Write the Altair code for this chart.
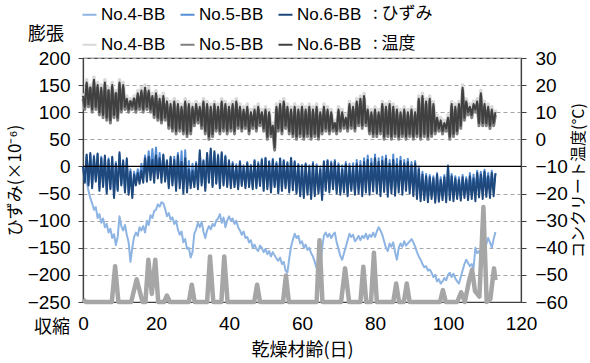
import altair as alt
import pandas as pd

FONT = "'Liberation Sans', Arial, 'Noto Sans CJK JP', sans-serif"
JFONT = "'Noto Sans CJK JP', 'Liberation Sans', sans-serif"

SERIES = ["No.4-BB", "No.5-BB", "No.6-BB"]
STRAIN_COLORS = ["#8db4e2", "#558ed5", "#1f497d"]
TEMP_COLORS = ["#d9d9d9", "#808080", "#404040"]

X_TICKS = [0, 20, 40, 60, 80, 100, 120]
STRAIN_TICKS = [-250, -200, -150, -100, -50, 0, 50, 100, 150, 200]
TEMP_TICKS = [-60, -50, -40, -30, -20, -10, 0, 10, 20, 30]

# strain (x10^-6), one value every half day from day 0
STRAIN_NO4 = [
    0, -10, -28, -45, -58, -68, -80, -75, -95, -88, -104, -96, -112, -106, -122, -115, -132, -125, -145, -130,
    -92, -110, -118, -108, -126, -140, -176, -150, -130, -122, -128, -112, -118, -110, -122, -100, -108, -90, -95, -82,
    -80, -70, -74, -66, -68, -78, -92, -86, -98, -94, -106, -100, -116, -126, -120, -140, -134, -152, -150, -168,
    -158, -124, -116, -104, -112, -102, -120, -132, -118, -110, -116, -106, -110, -100, -96, -88, -104, -94, -112, -100,
    -92, -100, -96, -106, -100, -112, -118, -126, -120, -132, -130, -140, -136, -150, -144, -152, -156, -146, -150, -158,
    -152, -162, -156, -166, -158, -164, -170, -174, -168, -180, -176, -192, -196, -170, -148, -135, -124, -132, -128, -142,
    -138, -150, -144, -154, -150, -160, -166, -176, -188, -194, -200, -150, -128, -122, -130, -124, -132, -126, -122, -140,
    -152, -165, -172, -160, -148, -136, -124, -130, -126, -138, -134, -128, -136, -128, -132, -124, -134, -126, -130, -122,
    -130, -120, -112, -118, -126, -138, -150, -156, -142, -148, -140, -158, -172, -150, -142, -148, -138, -146, -142, -138,
    -134, -140, -148, -158, -166, -172, -180, -186, -184, -192, -190, -196, -204, -200, -212, -208, -216, -212, -206, -210,
    -200, -196, -204, -198, -206, -212, -216, -204, -192, -180, -172, -178, -184, -180, -188, -150, -160, -156, -166, -180,
    -160, -143, -132, -140, -150, -134, -121,
]
STRAIN_NO5 = [
    0, -25, 20, -30, 22, -35, 20, -25, 22, -40, 18, -35, 18, -45, 15, -40, 16, -52, 8, -42,
    22, -32, 12, -45, 12, -48, -5, -52, -10, -30, -5, -25, 5, -20, 20, -15, 28, -10, 32, -12,
    35, -15, 25, -20, 20, -25, 12, -35, 15, -30, 18, -38, 25, -30, 28, -40, 30, -38, 10, -35,
    5, -32, 8, -38, 25, -30, 12, -40, 22, -28, 30, -35, 25, -30, 22, -36, 24, -32, 20, -34,
    12, -35, 8, -34, 4, -38, 10, -32, 2, -36, 8, -34, 3, -38, 12, -36, 8, -32, 14, -40,
    16, -38, 10, -44, 14, -35, 8, -45, 15, -40, 12, -36, 8, -44, 16, -40, 10, -46, 5, -50,
    3, -52, 6, -48, 2, -55, 8, -50, 4, -45, 0, -56, 10, -40, 12, -42, 9, -38, 12, -44,
    6, -46, 2, -42, 8, -50, 5, -40, 6, -46, 12, -42, 10, -48, 15, -40, 20, -44, 14, -38,
    22, -40, 15, -45, 18, -38, 20, -46, 12, -40, 22, -44, 14, -38, 18, -42, 12, -36, 14, -42,
    8, -48, 10, -54, 0, -58, -10, -56, -14, -60, -16, -55, -18, -62, -12, -60, -20, -56, -16, -60,
    2, -56, -14, -58, -18, -54, -20, -57, -16, -52, -20, -55, -12, -50, -15, -48, -8, -45, -10, -42,
    -6, -40, -12, -45, -8, -40, -12,
]
STRAIN_NO6 = [
    0, -30, 22, -35, 25, -40, 18, -28, 24, -45, 15, -38, 20, -50, 12, -42, 18, -58, 5, -45,
    26, -35, 10, -48, 15, -52, -10, -58, -15, -35, -12, -32, -8, -30, 15, -28, 18, -25, 12, -30,
    20, -22, 15, -30, 22, -28, 10, -40, 18, -35, 12, -45, 20, -40, 8, -50, 15, -48, -5, -40,
    -8, -38, 5, -42, 30, -35, 10, -45, 25, -30, 33, -38, 28, -32, 20, -40, 26, -35, 18, -38,
    10, -40, 5, -38, 0, -42, 8, -36, -2, -40, 6, -38, 0, -42, 10, -40, 5, -36, 12, -45,
    15, -42, 8, -48, 12, -38, 5, -50, 14, -45, 10, -40, 6, -48, 15, -44, 8, -50, 2, -55,
    0, -58, 4, -52, -2, -60, 5, -55, 0, -50, -5, -62, 8, -45, 10, -48, 6, -42, 9, -50,
    2, -52, -5, -48, 4, -55, 0, -45, -3, -52, 5, -50, 2, -55, 8, -48, 12, -52, 6, -46,
    15, -50, 8, -55, 10, -47, 14, -56, 5, -50, 12, -54, 4, -48, 10, -52, 6, -45, 8, -50,
    2, -55, 6, -60, -5, -64, -15, -62, -18, -66, -20, -60, -22, -67, -15, -65, -25, -62, -20, -66,
    0, -62, -18, -64, -22, -60, -25, -63, -20, -58, -24, -62, -18, -60, -22, -64, -12, -57, -15, -60,
    -10, -56, -18, -58, -12, -55, -13,
]

# concrete temperature (deg C), one value every half day from day 0
TEMP_NO4 = [
    17, 13, 22, 14, 20, 12, 23, 13, 21, 11, 20, 10, 22, 9, 19, 8, 21, 10, 18, 9,
    22, 12, 21, 13, 16, 12, 15, 13, 16, 12, 18, 13, 19, 12, 20, 13, 19, 12, 17, 10,
    18, 9, 16, 8, 17, 9, 15, 6, 14, 5, 15, 4, 14, 5, 13, 4, 15, 3, 14, 4,
    13, 7, 14, 8, 13, 6, 15, 4, 14, 2, 13, 3, 14, 5, 13, 4, 15, 5, 14, 4,
    13, 5, 14, 4, 15, 6, 13, 5, 12, 6, 13, 4, 11, 6, 12, 5, 13, 7, 11, 5,
    12, 2, 11, 3, 6, -2, 13, 5, 14, 4, 15, 6, 13, 4, 12, 3, 13, 2, 12, 3,
    13, 2, 12, 3, 13, 2, 12, 3, 13, 2, 11, 4, 13, 5, 12, 4, 11, 5, 7, 4,
    12, 5, 11, 6, 9, 5, 14, 6, 13, 5, 15, 7, 16, 6, 17, 7, 12, 4, 11, 3,
    12, 3, 11, 4, 14, 2, 13, 3, 14, 2, 13, 3, 12, 2, 11, 3, 12, 2, 11, 3,
    12, 2, 11, 3, 16, 2, 17, 3, 15, 2, 16, 3, 14, 4, 9, 5, 8, 4, 7, 5,
    9, 2, 14, 3, 13, 4, 14, 6, 20, 9, 15, 11, 13, 10, 14, 12, 15, 7, 18, 7,
    14, 7, 13, 6, 12, 7, 11,
]
TEMP_NO5 = [
    15, 11, 20, 12, 19, 10, 21, 11, 19, 9, 18, 8, 20, 7, 18, 6, 19, 8, 17, 7,
    20, 10, 19, 11, 14, 10, 14, 11, 15, 10, 16, 11, 17, 10, 18, 11, 17, 10, 15, 8,
    16, 7, 14, 6, 15, 7, 13, 4, 12, 3, 13, 2, 12, 3, 11, 2, 13, 1, 12, 2,
    11, 5, 12, 6, 11, 4, 13, 2, 12, 0, 11, 1, 12, 3, 11, 2, 13, 3, 12, 2,
    11, 3, 12, 2, 13, 4, 11, 3, 10, 4, 11, 2, 9, 4, 10, 3, 11, 5, 9, 3,
    10, 0, 9, 1, 4, -4, 11, 3, 12, 2, 13, 4, 11, 2, 10, 1, 11, 0, 10, 1,
    11, 0, 10, 1, 11, 0, 10, 1, 11, 0, 9, 2, 11, 3, 10, 2, 9, 3, 5, 2,
    10, 3, 9, 4, 7, 3, 12, 4, 11, 3, 13, 5, 14, 4, 15, 5, 10, 2, 9, 1,
    10, 1, 9, 2, 12, 0, 11, 1, 12, 0, 11, 1, 10, 0, 9, 1, 10, 0, 9, 1,
    10, 0, 9, 1, 14, 0, 15, 1, 13, 0, 14, 1, 12, 2, 7, 3, 6, 2, 5, 3,
    7, 0, 12, 1, 11, 2, 12, 4, 18, 7, 13, 9, 11, 8, 12, 10, 13, 5, 16, 5,
    12, 5, 11, 4, 10, 5, 9,
]
TEMP_NO6 = [
    16, 12, 21, 13, 19, 11, 22, 12, 20, 10, 19, 9, 21, 8, 18, 7, 20, 9, 17, 8,
    21, 11, 20, 12, 15, 11, 14, 12, 15, 11, 17, 12, 18, 11, 19, 12, 18, 11, 16, 9,
    17, 8, 15, 7, 16, 8, 14, 5, 13, 4, 14, 3, 13, 4, 12, 3, 14, 2, 13, 3,
    12, 6, 13, 7, 12, 5, 14, 3, 13, 1, 12, 2, 13, 4, 12, 3, 14, 4, 13, 3,
    12, 4, 13, 3, 14, 5, 12, 4, 11, 5, 12, 3, 10, 5, 11, 4, 12, 6, 10, 4,
    11, 1, 10, 2, 5, -3, 12, 4, 13, 3, 14, 5, 12, 3, 11, 2, 12, 1, 11, 2,
    12, 1, 11, 2, 12, 1, 11, 2, 12, 1, 10, 3, 12, 4, 11, 3, 10, 4, 6, 3,
    11, 4, 10, 5, 8, 4, 13, 5, 12, 4, 14, 6, 15, 5, 16, 6, 11, 3, 10, 2,
    11, 2, 10, 3, 13, 1, 12, 2, 13, 1, 12, 2, 11, 1, 10, 2, 11, 1, 10, 2,
    11, 1, 10, 2, 15, 1, 16, 2, 14, 1, 15, 2, 13, 3, 8, 4, 7, 3, 6, 4,
    8, 1, 13, 2, 12, 3, 13, 5, 19, 8, 14, 10, 12, 9, 13, 11, 14, 6, 17, 6,
    13, 6, 12, 5, 11, 6, 10,
]

# grey trace along the bottom of the temperature axis
SPIKE_DAYS = [0, 0.8, 7.9, 8.8, 9.7, 13.2, 14.7, 16.3, 17.1, 17.9, 18.85, 19.8, 20.6,
              22.2, 23.0, 23.8, 29.0, 29.8, 30.6, 34.0, 34.8, 35.7, 37.9, 38.7, 39.6,
              46.9, 47.7, 48.5, 54.8, 55.6, 56.4, 64.0, 64.8, 65.6, 70.7, 71.8, 72.9,
              76.0, 76.8, 77.6, 78.9, 79.7, 80.5, 85.0, 85.8, 86.6, 87.9, 88.7, 89.5,
              97.8, 98.6, 99.4, 102.5, 103.6, 104.6, 105.8, 106.6, 107.4, 108.6, 109.7,
              110.6, 111.6, 112.6, 113.0]
SPIKE_TEMP = [-59, -60, -60, -46.8, -60, -60, -51.6, -60, -60, -44.4, -57, -44.4, -60,
              -60, -57.6, -60, -60, -53.6, -60, -60, -43.2, -60, -60, -43.2, -60,
              -60, -53.6, -60, -60, -50.2, -60, -60, -37.2, -60, -60, -47.6, -60,
              -60, -47.0, -60, -60, -41.8, -60, -60, -53.2, -60, -60, -53.2, -60,
              -60, -55.6, -60, -60, -56.4, -60, -52, -48, -56, -58, -25,
              -60, -59, -47.6, -52]


def half_day_frame(values, name):
    return pd.DataFrame({"day": [i * 0.5 for i in range(len(values))],
                         "value": values, "series": name})


x_enc = alt.X("day:Q", scale=alt.Scale(domain=[0, 120], nice=False, zero=False),
              axis=alt.Axis(values=X_TICKS, title="乾燥材齢(日)", ticks=False, labelFlush=False,
                            labelPadding=12, titlePadding=8, grid=False))

strain_axis = alt.Axis(values=STRAIN_TICKS, title="ひずみ(×10⁻⁶)", grid=True,
                       gridDash=[4, 3], gridColor="#a6a6a6", gridWidth=1,
                       tickSize=5, labelPadding=8, titlePadding=3, labelFlush=False,
                       titleFontSize=17)
y_strain = alt.Y("value:Q", scale=alt.Scale(domain=[-250, 200], nice=False, zero=False),
                 axis=strain_axis)

y_temp = alt.Y("value:Q", scale=alt.Scale(domain=[-60, 30], nice=False, zero=False),
               axis=alt.Axis(values=TEMP_TICKS, title="コンクリート温度(°C)", orient="right",
                             grid=False, tickSize=5, labelPadding=9, titlePadding=19,
                             titleAngle=270, labelFlush=False, titleFontSize=16))

legend_common = dict(orient="none", legendX=-2, direction="horizontal",
                     titleOrient="right", symbolType="stroke", symbolSize=196,
                     symbolStrokeWidth=2, columnPadding=10, labelOffset=3, titlePadding=12)

strain_color = alt.Color("series:N", scale=alt.Scale(domain=SERIES, range=STRAIN_COLORS),
                         legend=alt.Legend(title=": ひずみ", legendY=-52, **legend_common))
temp_color = alt.Color("series:N", scale=alt.Scale(domain=SERIES, range=TEMP_COLORS),
                       legend=alt.Legend(title=": 温度", legendY=-22, **legend_common))

strain_layers = []
for vals, name in [(STRAIN_NO4, "No.4-BB"), (STRAIN_NO5, "No.5-BB"), (STRAIN_NO6, "No.6-BB")]:
    strain_layers.append(
        alt.Chart(half_day_frame(vals, name)).mark_line(strokeWidth=2, strokeJoin="round")
        .encode(x=x_enc, y=y_strain, color=strain_color)
    )

zero_rule = alt.Chart(pd.DataFrame({"v": [0]})).mark_rule(color="#000000", strokeWidth=1.2).encode(
    y=alt.Y("v:Q", scale=alt.Scale(domain=[-250, 200], nice=False, zero=False), axis=strain_axis))

notes = alt.Chart(pd.DataFrame({"t": ["膨張", "収縮"], "px": [-37, -31], "py": [-23, 270]})).mark_text(
    font=JFONT, fontSize=18, color="#000000", align="center", baseline="middle"
).encode(x=alt.X("px:Q", scale=None), y=alt.Y("py:Q", scale=None), text="t:N")

strain_part = alt.layer(*strain_layers, zero_rule, notes)

temp_layers = []
widths = {"No.4-BB": 3.5, "No.5-BB": 3.0, "No.6-BB": 2.0}
for vals, name in [(TEMP_NO4, "No.4-BB"), (TEMP_NO5, "No.5-BB"), (TEMP_NO6, "No.6-BB")]:
    temp_layers.append(
        alt.Chart(half_day_frame(vals, name)).mark_line(strokeWidth=widths[name], strokeJoin="round")
        .encode(x=x_enc, y=y_temp, color=temp_color)
    )

spikes = alt.Chart(pd.DataFrame({"day": SPIKE_DAYS, "value": SPIKE_TEMP})).mark_line(
    strokeWidth=4.5, color="#a6a6a6", strokeJoin="round"
).encode(x=x_enc, y=y_temp)

temp_part = alt.layer(*temp_layers, spikes)

chart = alt.layer(strain_part, temp_part).resolve_scale(
    y="independent", color="independent"
).properties(
    width=438, height=244,
    autosize=alt.AutoSizeParams(type="none"),
    padding={"left": 83, "top": 58, "right": 69, "bottom": 61},
    background="#ffffff",
).configure_view(
    stroke="#404040", strokeWidth=1.2
).configure_axis(
    labelFont=FONT, labelFontSize=19, labelColor="#000000",
    titleFont=JFONT, titleFontSize=18, titleFontWeight="normal", titleColor="#000000",
    domainColor="#404040", domainWidth=1.2, tickColor="#404040",
).configure_legend(
    labelFont=FONT, labelFontSize=17, labelColor="#000000",
    titleFont=JFONT, titleFontSize=17, titleFontWeight="normal", titleColor="#000000",
)

chart.save("out.html", embed_options={"renderer": "svg", "actions": False})
